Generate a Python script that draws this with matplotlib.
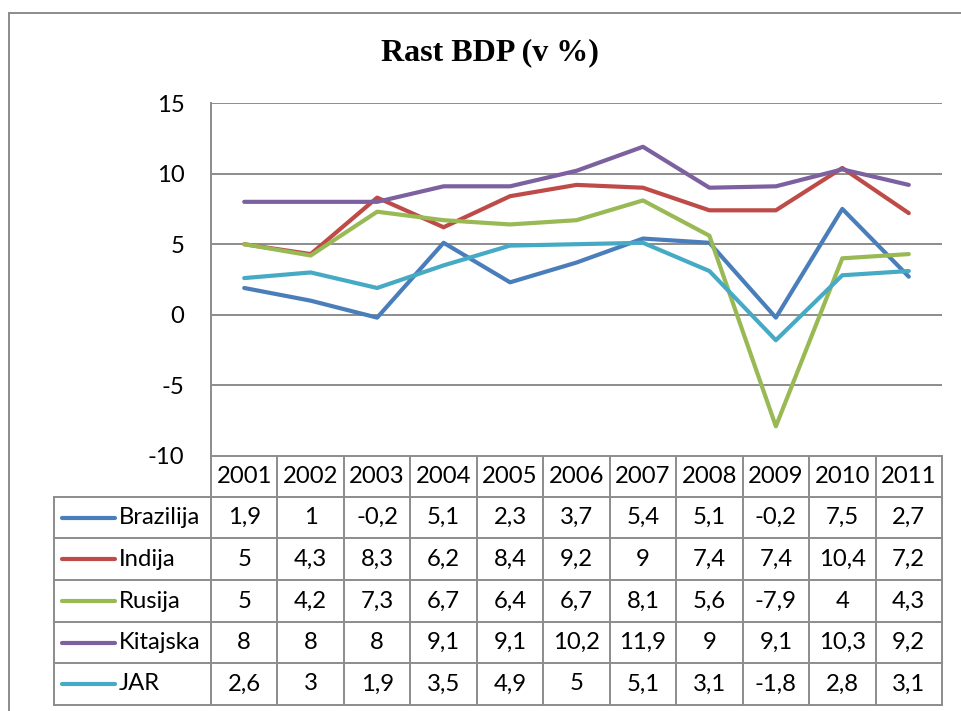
import matplotlib
matplotlib.use("Agg")
import matplotlib.pyplot as plt

# --- podaci ---
years = ["2001", "2002", "2003", "2004", "2005", "2006",
         "2007", "2008", "2009", "2010", "2011"]
brazilija = [1.9, 1, -0.2, 5.1, 2.3, 3.7, 5.4, 5.1, -0.2, 7.5, 2.7]
indija    = [5, 4.3, 8.3, 6.2, 8.4, 9.2, 9, 7.4, 7.4, 10.4, 7.2]
rusija    = [5, 4.2, 7.3, 6.7, 6.4, 6.7, 8.1, 5.6, -7.9, 4, 4.3]
kitajska  = [8, 8, 8, 9.1, 9.1, 10.2, 11.9, 9, 9.1, 10.3, 9.2]
jar       = [2.6, 3, 1.9, 3.5, 4.9, 5, 5.1, 3.1, -1.8, 2.8, 3.1]

names  = ["Brazilija", "Indija", "Rusija", "Kitajska", "JAR"]
series = [brazilija, indija, rusija, kitajska, jar]
colors = ["#4A7EBB", "#BE4B48", "#98B954", "#7D60A0", "#46AAC5"]

FONT = "Lato"
FS = 17.2
GRID = "#8C8C8C"

W, H = 961, 711
fig = plt.figure(figsize=(W / 100, H / 100), dpi=100)

# pozicije v pikslih
left, right, top, bottom = 211, 942, 103, 456
ax = fig.add_axes([left / W, 1 - bottom / H, (right - left) / W, (bottom - top) / H])

x = list(range(len(years)))
for vals, c in zip(series, colors):
    ax.plot(x, vals, color=c, lw=3.0, solid_joinstyle="round", solid_capstyle="round")

ax.set_xlim(-0.5, len(years) - 0.5)
ax.set_ylim(-10, 15)
ax.set_yticks([-10, -5, 0, 5, 10, 15])
ax.set_yticklabels(["-10", "-5", "0", "5", "10", "15"], fontfamily=FONT, fontsize=FS)
ax.tick_params(axis="y", length=0, pad=19)
ax.set_xticks([])
ax.grid(axis="y", color=GRID, lw=1.4)
for s in ["top", "right", "bottom"]:
    ax.spines[s].set_visible(False)
ax.spines["left"].set_color(GRID)
ax.spines["left"].set_linewidth(1.4)

# --- tabela (prekrivni koordinatni sistem v pikslih) ---
tab = fig.add_axes([0, 0, 1, 1], zorder=-1)
tab.set_xlim(0, W)
tab.set_ylim(H, 0)
tab.axis("off")

col_w = (right - left) / len(years)
tab_left = 54
row_edges = [456, 497, 538, 580, 622, 663, 705]

# okvir grafa
tab.plot([9, 9], [13, H], color=GRID, lw=1.4)
tab.plot([9, W], [13, 13], color=GRID, lw=1.4)

# vodoravne črte
tab.plot([left, right], [row_edges[0], row_edges[0]], color=GRID, lw=1.4)
for yy in row_edges[1:]:
    tab.plot([tab_left, right], [yy, yy], color=GRID, lw=1.4)
# navpične črte
tab.plot([tab_left, tab_left], [row_edges[1], row_edges[-1]], color=GRID, lw=1.4)
tab.plot([left, left], [row_edges[0], row_edges[-1]], color=GRID, lw=1.4)
for k in range(1, len(years) + 1):
    xx = left + k * col_w
    tab.plot([xx, xx], [row_edges[0], row_edges[-1]], color=GRID, lw=1.4)

# glava z leti
hy = (row_edges[0] + row_edges[1]) / 2
for i, yr in enumerate(years):
    tab.text(left + (i + 0.5) * col_w, hy, yr, ha="center", va="center",
             fontfamily=FONT, fontsize=FS)

# vrstice
for r, (name, vals, c) in enumerate(zip(names, series, colors)):
    cy = (row_edges[r + 1] + row_edges[r + 2]) / 2
    tab.plot([62, 115], [cy, cy], color=c, lw=3.0, solid_capstyle="round")
    tab.text(119, cy, name, ha="left", va="center", fontfamily=FONT, fontsize=FS)
    for i, v in enumerate(vals):
        tab.text(left + (i + 0.5) * col_w, cy, f"{v:g}".replace(".", ","),
                 ha="center", va="center", fontfamily=FONT, fontsize=FS)

fig.text(490 / W, 1 - 53 / H, "Rast BDP (v %)", ha="center", va="center",
         fontfamily="Liberation Serif", fontweight="bold", fontsize=23)

fig.savefig("out.png", dpi=100)
